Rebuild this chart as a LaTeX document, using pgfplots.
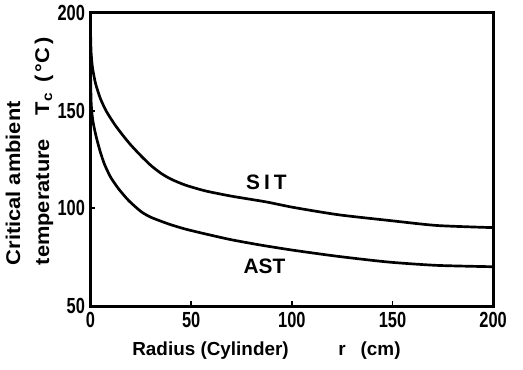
\documentclass[border=0pt]{standalone}
\usepackage{fontspec}
\setmainfont{Liberation Sans}
\newfontfamily\tickfont{Liberation Sans}[FakeStretch=0.75]
\newfontfamily\ylabfont{Liberation Sans}[FakeStretch=1.1]
\usepackage{pgfplots}
\pgfplotsset{compat=1.18}
\begin{document}
\begin{tikzpicture}
\begin{axis}[
  scale only axis,
  width=405bp, height=295bp,
  xmin=0, xmax=200, ymin=50, ymax=200,
  xtick={0,50,100,150,200}, ytick={50,100,150,200},
  axis line style={line width=3bp},
  tick pos=left, tick align=inside,
  major tick length=5bp,
  tick style={line width=2bp, black},
  /pgf/number format/assume math mode=true,
  ticklabel style={font=\tickfont\bfseries\fontsize{22bp}{22bp}\selectfont},
  xticklabel style={yshift=-3bp},
  yticklabel style={xshift=-2bp},
  clip=false,
]
\addplot[black, line width=2.7bp, smooth, tension=0.4] coordinates {
(0,192) (0.3,180) (1,172) (2.5,164) (5,156) (8,149.5) (12,143) (16,137.5) (20,132.5) (25,127) (30,122) (35,118) (40,115) (47,112) (57,109) (70,106.3) (87,103.4) (101,100.5) (123,96.8) (148,93.9) (172,91.3) (200,90.2)
};
\addplot[black, line width=2.7bp, smooth, tension=0.4] coordinates {
(0,172) (0.3,155) (0.8,148) (1.5,143) (3,136) (5,128.5) (7,122.5) (10,116) (14,110) (19,104) (25,98.5) (30,95.5) (39,92) (47,89.5) (57,87) (70,84) (85,81.2) (101,78.6) (123,75.5) (148,72.6) (172,70.9) (200,70.2)
};
\node[font=\bfseries\fontsize{21bp}{21bp}\selectfont] at (axis cs:87.4,113.5) {S\hspace{4bp}I\hspace{4bp}T};
\node[font=\bfseries\fontsize{21bp}{21bp}\selectfont] at (axis cs:86.4,70.6) {AST};
\node[font=\bfseries\fontsize{19bp}{19bp}\selectfont, anchor=center] at ([yshift=-45bp]axis cs:87.4,50) {Radius (Cylinder)\hspace{50bp}r\hspace{15bp}(cm)};
\node[rotate=90, anchor=west, inner sep=0pt] at ([shift={(-62bp,41bp)}]rel axis cs:0,0)
  {\ylabfont\bfseries\fontsize{20bp}{29bp}\selectfont\begin{tabular}{@{}l@{}}Critical ambient\\temperature\hspace{24bp}T\textsubscript{c}\hspace{10bp}(\hspace{3bp}°C\hspace{3bp})\end{tabular}};
\end{axis}
\path ([shift={(-88bp,-64bp)}]current axis.south west) rectangle ([shift={(30bp,13bp)}]current axis.north east);
\end{tikzpicture}
\end{document}
